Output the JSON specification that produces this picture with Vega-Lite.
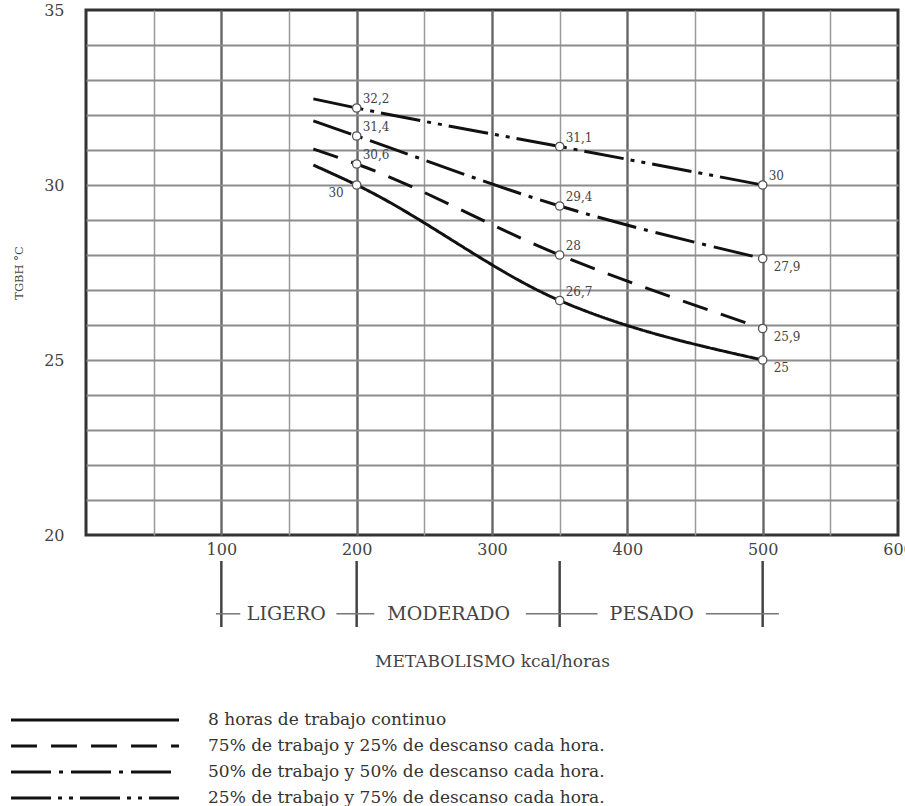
{
  "$schema": "https://vega.github.io/schema/vega-lite/v6.json",
  "padding": {"left": 11, "top": 0, "right": 0, "bottom": 0},
  "background": "white",
  "spacing": 0,
  "config": {
    "font": "DejaVu Serif",
    "locale": {"number": {"decimal": ",", "thousands": ".", "grouping": [3], "currency": ["", " €"]}},
    "view": {"stroke": null},
    "axis": {"labelFont": "DejaVu Serif", "titleFont": "DejaVu Serif", "labelColor": "#444", "titleColor": "#444", "titleFontWeight": "normal"}
  },
  "datasets": {
    "curvas": [
      {"n": 1, "regimen": "8 horas de trabajo continuo", "metabolismo": 168, "tgbh": 30.57},
      {"n": 1, "regimen": "8 horas de trabajo continuo", "metabolismo": 200, "tgbh": 30},
      {"n": 1, "regimen": "8 horas de trabajo continuo", "metabolismo": 350, "tgbh": 26.7},
      {"n": 1, "regimen": "8 horas de trabajo continuo", "metabolismo": 500, "tgbh": 25},
      {"n": 2, "regimen": "75% de trabajo y 25% de descanso cada hora.", "metabolismo": 168, "tgbh": 31.03},
      {"n": 2, "regimen": "75% de trabajo y 25% de descanso cada hora.", "metabolismo": 200, "tgbh": 30.6},
      {"n": 2, "regimen": "75% de trabajo y 25% de descanso cada hora.", "metabolismo": 350, "tgbh": 28},
      {"n": 2, "regimen": "75% de trabajo y 25% de descanso cada hora.", "metabolismo": 500, "tgbh": 25.9},
      {"n": 3, "regimen": "50% de trabajo y 50% de descanso cada hora.", "metabolismo": 168, "tgbh": 31.83},
      {"n": 3, "regimen": "50% de trabajo y 50% de descanso cada hora.", "metabolismo": 200, "tgbh": 31.4},
      {"n": 3, "regimen": "50% de trabajo y 50% de descanso cada hora.", "metabolismo": 350, "tgbh": 29.4},
      {"n": 3, "regimen": "50% de trabajo y 50% de descanso cada hora.", "metabolismo": 500, "tgbh": 27.9},
      {"n": 4, "regimen": "25% de trabajo y 75% de descanso cada hora.", "metabolismo": 168, "tgbh": 32.46},
      {"n": 4, "regimen": "25% de trabajo y 75% de descanso cada hora.", "metabolismo": 200, "tgbh": 32.2},
      {"n": 4, "regimen": "25% de trabajo y 75% de descanso cada hora.", "metabolismo": 350, "tgbh": 31.1},
      {"n": 4, "regimen": "25% de trabajo y 75% de descanso cada hora.", "metabolismo": 500, "tgbh": 30}
    ]
  },
  "vconcat": [
    {
      "width": 812,
      "height": 525,
      "view": {"stroke": "#333", "strokeWidth": 3},
      "data": {"name": "curvas"},
      "encoding": {
        "x": {
          "field": "metabolismo", "type": "quantitative",
          "scale": {"domain": [0, 600], "nice": false},
          "axis": {
            "title": null,
            "values": [50, 100, 150, 200, 250, 300, 350, 400, 450, 500, 550, 600],
            "labelExpr": "datum.value % 100 === 0 ? datum.label : ''",
            "labelFlush": false, "labelOverlap": false, "labelBound": false,
            "labelFontSize": 16, "labelPadding": 6,
            "ticks": false, "domain": false, "grid": true,
            "gridColor": {"condition": {"test": "datum.value % 100 === 0", "value": "#666"}, "value": "#9a9a9a"},
            "gridWidth": {"condition": {"test": "datum.value % 100 === 0", "value": 2.4}, "value": 1.5},
            "gridOpacity": {"condition": {"test": "datum.value >= 600", "value": 0}, "value": 1}
          }
        },
        "y": {
          "field": "tgbh", "type": "quantitative",
          "scale": {"domain": [20, 35], "nice": false, "zero": false},
          "axis": {
            "title": "TGBH °C",
            "values": [20, 21, 22, 23, 24, 25, 26, 27, 28, 29, 30, 31, 32, 33, 34, 35],
            "labelExpr": "datum.value % 5 === 0 ? datum.label : ''",
            "labelFontSize": 16, "labelPadding": 22, "labelOverlap": false,
            "ticks": false, "domain": false, "grid": true,
            "gridColor": "#8c8c8c", "gridWidth": 1.8,
            "gridOpacity": {"condition": {"test": "datum.value <= 20 || datum.value >= 35", "value": 0}, "value": 1},
            "titleFontSize": 11.5, "titleX": -62, "titlePadding": 20
          }
        }
      },
      "layer": [
        {
          "mark": {"type": "line", "interpolate": "monotone", "color": "#111", "strokeWidth": 3},
          "encoding": {
            "strokeDash": {
              "field": "regimen", "type": "nominal",
              "scale": {
                "domain": ["8 horas de trabajo continuo", "75% de trabajo y 25% de descanso cada hora.", "50% de trabajo y 50% de descanso cada hora.", "25% de trabajo y 75% de descanso cada hora."],
                "range": [[1, 0], [26, 14], [40, 8, 4, 8], [40, 7, 4, 7, 4, 7]]
              },
              "legend": {
                "title": null, "orient": "none", "legendX": -75, "legendY": 698,
                "symbolType": "M-1.1429,0H14.857", "symbolSize": 441, "symbolStrokeWidth": 3, "symbolStrokeColor": "#111",
                "labelFont": "DejaVu Serif", "labelFontSize": 17, "labelColor": "#333",
                "labelOffset": 173, "rowPadding": 6, "labelLimit": 700
              }
            }
          }
        },
        {
          "transform": [{"filter": "datum.metabolismo >= 200"}],
          "mark": {"type": "point", "shape": "circle", "filled": true, "fill": "white", "stroke": "#555", "strokeWidth": 1.3, "size": 70, "opacity": 1}
        },
        {
          "transform": [{"filter": "datum.metabolismo >= 200 && !(datum.metabolismo == 200 && datum.n == 1) && !(datum.metabolismo == 500 && datum.n != 4)"}],
          "mark": {"type": "text", "align": "left", "baseline": "middle", "dx": 6, "dy": -9, "fontSize": 12, "color": "#444"},
          "encoding": {"text": {"field": "tgbh", "type": "quantitative", "format": ".3~r"}}
        },
        {
          "transform": [{"filter": "datum.metabolismo == 500 && datum.n != 4"}],
          "mark": {"type": "text", "align": "left", "baseline": "middle", "dx": 11, "dy": 8, "fontSize": 12, "color": "#444"},
          "encoding": {"text": {"field": "tgbh", "type": "quantitative", "format": ".3~r"}}
        },
        {
          "transform": [{"filter": "datum.metabolismo == 200 && datum.n == 1"}],
          "mark": {"type": "text", "align": "right", "baseline": "middle", "dx": -13, "dy": 8, "fontSize": 12, "color": "#444"},
          "encoding": {"text": {"field": "tgbh", "type": "quantitative", "format": ".3~r"}}
        }
      ]
    },
    {
      "width": 812,
      "height": 66,
      "view": {"stroke": null},
      "layer": [
        {
          "data": {"values": [{"limite": 100}, {"limite": 200}, {"limite": 350}, {"limite": 500}]},
          "mark": {"type": "rule", "color": "#444", "strokeWidth": 2.5},
          "encoding": {
            "x": {
              "field": "limite", "type": "quantitative",
              "scale": {"domain": [0, 600], "nice": false},
              "axis": {"title": "METABOLISMO kcal/horas", "labels": false, "ticks": false, "domain": false, "grid": false, "titlePadding": 26, "titleFontSize": 17}
            }
          }
        },
        {
          "data": {"values": [{"inicio": 96, "fin": 114}, {"inicio": 185, "fin": 213}, {"inicio": 325, "fin": 378}, {"inicio": 458, "fin": 512}]},
          "mark": {"type": "rule", "color": "#777", "strokeWidth": 1.5},
          "encoding": {
            "x": {"field": "inicio", "type": "quantitative"},
            "x2": {"field": "fin"},
            "y": {"datum": 0.2, "type": "quantitative", "scale": {"domain": [0, 1]}, "axis": null}
          }
        },
        {
          "data": {"values": [{"centro": 148, "nivel": "LIGERO"}, {"centro": 268, "nivel": "MODERADO"}, {"centro": 418, "nivel": "PESADO"}]},
          "mark": {"type": "text", "fontSize": 19, "color": "#444", "baseline": "middle", "align": "center"},
          "encoding": {
            "x": {"field": "centro", "type": "quantitative"},
            "y": {"datum": 0.2, "type": "quantitative"},
            "text": {"field": "nivel"}
          }
        }
      ]
    }
  ]
}
